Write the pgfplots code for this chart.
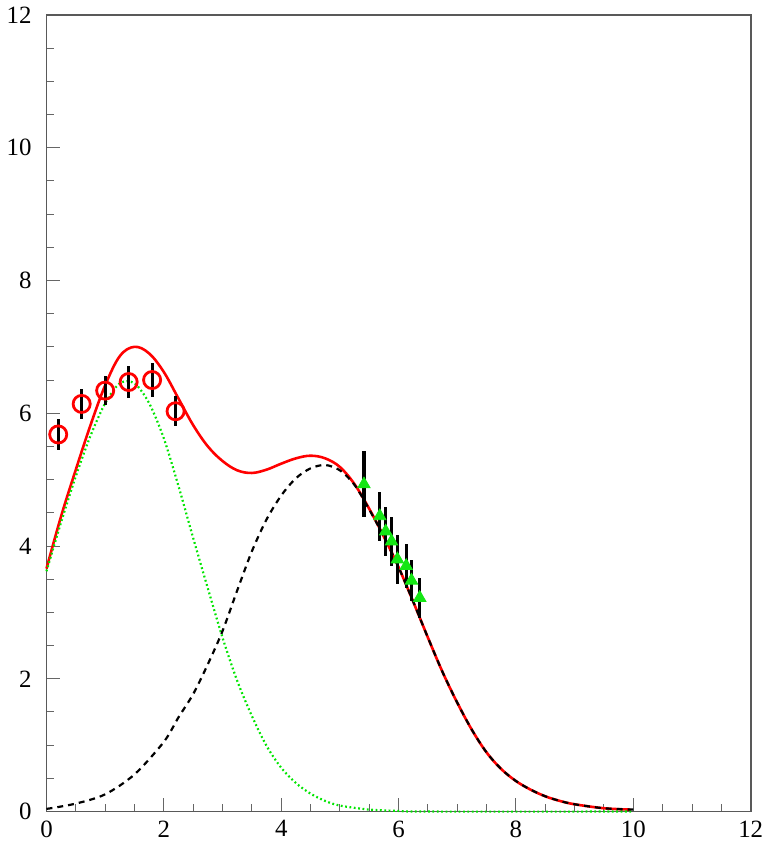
\documentclass[border=0pt]{standalone}
\usepackage{fontspec}
\setmainfont{Liberation Serif}
\usepackage{pgfplots}
\pgfplotsset{compat=1.18}

% component curves and fit
\pgfplotstableread{
x     y
0.00  3.62
0.25  4.36
0.50  5.05
0.75  5.66
1.00  6.15
1.25  6.45
1.50  6.45
1.75  6.15
2.00  5.62
2.25  4.90
2.50  4.12
2.75  3.36
3.00  2.62
3.25  1.97
3.50  1.44
3.75  0.99
4.00  0.66
4.25  0.43
4.50  0.27
4.75  0.16
5.00  0.09
5.50  0.03
6.00  0.01
6.50  0.00
10.00 0.00
}\greencurve

\pgfplotstableread{
x     y
0.00  0.04
0.50  0.12
1.00  0.26
1.50  0.56
2.00  1.05
2.25  1.42
2.50  1.77
2.75  2.22
3.00  2.72
3.25  3.33
3.50  3.92
3.75  4.40
4.00  4.76
4.25  5.02
4.50  5.17
4.75  5.22
5.00  5.14
5.25  4.92
5.50  4.55
5.75  4.14
6.00  3.68
6.25  3.16
6.50  2.62
6.75  2.10
7.00  1.64
7.25  1.23
7.50  0.89
7.75  0.64
8.00  0.46
8.25  0.33
8.50  0.23
8.75  0.16
9.00  0.11
9.50  0.05
10.00 0.03
}\blackcurve

\pgfplotstableread{
x     y
0.00  3.66
0.25  4.45
0.50  5.15
0.75  5.82
1.00  6.42
1.25  6.86
1.50  7.00
1.75  6.90
2.00  6.62
2.25  6.22
2.50  5.82
2.75  5.50
3.00  5.28
3.25  5.14
3.50  5.10
3.75  5.15
4.00  5.24
4.25  5.32
4.50  5.36
4.75  5.32
5.00  5.19
5.25  4.93
5.50  4.56
5.75  4.14
6.00  3.68
6.25  3.16
6.50  2.62
6.75  2.10
7.00  1.64
7.25  1.23
7.50  0.89
7.75  0.64
8.00  0.46
8.25  0.33
8.50  0.23
8.75  0.16
9.00  0.11
9.50  0.05
9.95  0.03
}\redcurve

\begin{document}
\begin{tikzpicture}
\begin{axis}[
  scale only axis,
  width=354pt, height=400.5pt,
  xmin=0, xmax=12, ymin=0, ymax=12,
  xtick={0,2,...,12}, ytick={0,2,...,12},
  minor x tick num=3, minor y tick num=3,
  tick pos=left, tick align=inside,
  major tick length=7pt, minor tick length=4pt,
  tick style={black!60, line width=0.5pt},
  axis line style={black!65, line width=0.9pt},
  ticklabel style={font=\fontsize{12.5}{14}\selectfont},
  /pgf/number format/assume math mode=true,
  xticklabel style={yshift=-1pt},
  yticklabel style={xshift=-4pt},
  clip=false,
]
\addplot[red, line width=1.3pt, smooth, tension=0.6] table {\redcurve};
\addplot[green!90!black, line width=1.1pt, dash pattern=on 0.9pt off 1.3pt, smooth] table {\greencurve};
\addplot[black, line width=1.1pt, dash pattern=on 3pt off 2.5pt, smooth] table {\blackcurve};

% red open circles
\addplot[only marks, mark=o, mark size=4.3pt, red, mark options={line width=1.4pt},
  error bars/.cd, y dir=both, y explicit, error mark=none,
  error bar style={black, line width=1.6pt}]
  table[x=x, y=y, y error=e] {
x    y     e
0.20 5.68  0.24
0.60 6.14  0.22
1.00 6.34  0.22
1.40 6.47  0.24
1.80 6.50  0.25
2.20 6.03  0.23
};

% green triangles
\addplot[only marks, mark=triangle*, mark size=3.6pt, color={rgb,255:red,20;green,230;blue,20},
  error bars/.cd, y dir=both, y explicit, error mark=none,
  error bar style={black, line width=1.6pt}]
  table[x=x, y=y, y error=e] {
x    y     e
5.41 4.93  0.50
5.68 4.45  0.37
5.78 4.22  0.37
5.88 4.07  0.37
5.98 3.80  0.37
6.13 3.70  0.33
6.22 3.48  0.31
6.36 3.22  0.30
};
\end{axis}
\end{tikzpicture}
\end{document}
